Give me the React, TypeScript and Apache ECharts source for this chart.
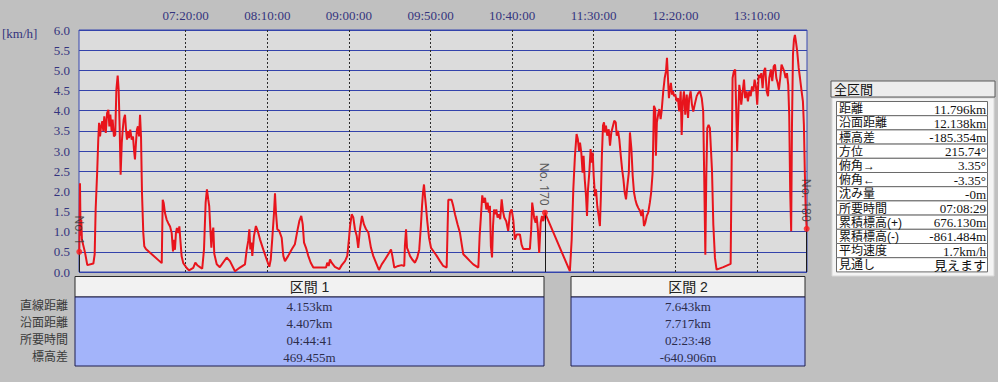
import React, { useEffect, useRef } from "react";
import * as echarts from "echarts";

// top time axis labels
const timeTicks = ["07:20:00", "08:10:00", "09:00:00", "09:50:00", "10:40:00", "11:30:00", "12:20:00", "13:10:00"];
const axisStart = "06:14:36";
const axisEnd = "13:40:42";

// [minutes since midnight, speed km/h]
const trackClimb: [number, number][] = [
  [374.8, 0.5], [375.2, 2.2], [375.6, 0.9], [376.0, 1.3], [376.4, 0.8], [378.3, 0.48], [379.7, 0.17], [383.4, 0.21],
  [384.2, 0.44], [384.8, 1.55], [385.8, 2.54], [386.4, 3.28], [386.9, 3.7], [387.5, 3.36], [388.1, 3.6], [388.9, 3.74],
  [389.5, 3.49], [390.1, 3.86], [391.0, 3.45], [391.8, 3.94], [392.6, 4.02], [393.2, 3.61], [393.8, 3.9], [394.6, 3.49],
  [395.2, 3.78], [396.0, 3.36], [396.8, 3.4], [397.5, 4.52], [398.3, 4.87], [398.9, 4.52], [399.5, 3.61], [400.1, 2.41],
  [400.8, 3.2], [401.4, 3.53], [402.0, 3.78], [402.8, 3.9], [403.4, 3.53], [404.0, 3.28], [404.6, 3.49], [405.2, 3.32],
  [406.0, 3.53], [406.9, 3.28], [407.7, 3.36], [408.3, 3.03], [408.9, 2.79], [409.5, 3.2], [410.1, 3.53], [410.7, 3.61],
  [411.4, 3.36], [412.0, 3.9], [412.6, 3.36], [413.2, 1.96], [414.0, 0.97], [414.6, 0.64], [415.6, 0.57], [425.3, 0.22],
  [425.9, 1.79], [426.5, 1.71], [427.3, 1.46], [428.3, 1.3], [429.3, 1.21], [430.4, 1.13], [431.4, 0.97], [432.2, 0.51],
  [432.8, 0.8], [433.4, 0.55], [434.0, 0.97], [434.6, 1.09], [435.4, 0.97], [436.1, 1.13], [436.7, 0.8], [437.5, 0.39],
  [438.5, 0.22],
];

const trackMiddle: [number, number][] = [
  [440.6, 0.1], [442.0, 0.04], [444.6, 0.1], [445.9, 0.23], [447.3, 0.16], [448.7, 0.12], [450.1, 0.08], [451.2, 0.56],
  [452.2, 1.72], [453.0, 2.05], [453.8, 1.8], [454.4, 1.63], [455.0, 1.13], [455.7, 0.6], [456.3, 0.98], [456.9, 1.1],
  [457.5, 0.45], [459.0, 0.19], [460.9, 0.12], [465.1, 0.36], [467.1, 0.27], [470.2, 0.02], [473.2, 0.11], [476.3, 0.19],
  [477.4, 0.56], [478.3, 0.77], [479.0, 1.06], [479.6, 0.56], [480.2, 0.73], [480.8, 0.4], [481.8, 0.89], [483.0, 1.14],
  [484.1, 1.02], [485.5, 0.81], [487.5, 0.56], [489.6, 0.31], [491.2, 0.13], [492.1, 0.31], [493.0, 0.81], [494.1, 1.47],
  [494.7, 1.95], [495.3, 1.47], [496.1, 1.06], [497.3, 1.02], [498.8, 0.85], [499.8, 0.4], [500.8, 0.27], [502.8, 0.4],
  [504.9, 0.56], [506.9, 0.69], [508.4, 1.02], [509.6, 1.26], [510.8, 1.39], [511.7, 1.18], [512.5, 0.73], [513.7, 0.6],
  [515.1, 0.4], [516.6, 0.23], [518.2, 0.11], [526.0, 0.11], [526.7, 0.23], [527.6, 0.15], [528.4, 0.31], [529.4, 0.23],
  [531.4, 0.13], [534.1, 0.07], [535.6, 0.17], [537.6, 0.27], [539.0, 0.4], [540.0, 0.81], [540.7, 1.14], [541.7, 1.43],
  [542.7, 1.35], [543.7, 1.06], [544.8, 0.89], [545.7, 0.6], [546.8, 1.06], [548.0, 1.39], [549.2, 1.18], [550.5, 1.06],
  [551.9, 0.98], [553.5, 0.6], [554.9, 0.4], [557.0, 0.19], [558.4, 0.05], [560.1, 0.19], [562.1, 0.31], [564.1, 0.44],
  [565.8, 0.56], [566.6, 0.4], [567.8, 0.11], [570.2, 0.15], [572.3, 0.17], [573.9, 0.15], [574.3, 0.64], [575.0, 1.06],
  [575.6, 0.6], [576.4, 0.52], [577.4, 0.4], [578.8, 0.31], [580.5, 0.23], [581.9, 0.36], [583.1, 0.56], [584.1, 1.14],
  [584.8, 1.64], [585.4, 1.97], [586.0, 2.17], [586.6, 1.88], [587.2, 1.64], [588.0, 1.26], [589.1, 0.85], [590.3, 0.6],
  [591.7, 0.52], [593.8, 0.4], [595.8, 0.27], [597.8, 0.15], [599.9, 0.11], [600.5, 1.14], [600.9, 1.79], [602.9, 1.79],
  [603.9, 1.64], [605.0, 1.43], [606.6, 1.18], [608.0, 0.98], [609.1, 0.69], [610.1, 0.44], [612.1, 0.36], [614.2, 0.27],
  [616.2, 0.19], [619.3, 0.11], [620.1, 0.89], [620.9, 1.39], [621.7, 1.9], [622.6, 1.72], [623.4, 1.84], [624.2, 1.55],
  [625.0, 1.72], [625.8, 1.47], [626.4, 1.64], [627.0, 0.64], [627.7, 0.36], [628.3, 1.14], [628.9, 1.55], [629.5, 1.43],
  [630.3, 1.55], [631.1, 1.35], [631.9, 1.43], [632.7, 1.31], [633.6, 1.8], [634.4, 1.51], [635.2, 1.35], [636.4, 1.26],
  [637.6, 1.02], [638.7, 1.47], [639.7, 1.55], [640.7, 1.3], [641.7, 0.8], [642.8, 0.93], [644.8, 0.93], [645.8, 0.68],
  [646.8, 0.57], [650.9, 0.57], [651.7, 1.05], [652.3, 1.72], [652.9, 1.55], [653.5, 1.34], [654.4, 1.22], [655.0, 1.39],
  [655.8, 1.05], [656.6, 0.47], [657.5, 1.22], [658.3, 1.39], [659.1, 1.26], [660.1, 1.47],
];

const trackSection2: [number, number][] = [
  [675.4, 0.02], [676.5, 0.8], [677.5, 2.05], [678.5, 2.88], [679.5, 3.42], [680.3, 3.29], [681.0, 3.0], [681.6, 3.21],
  [682.4, 2.96], [683.2, 2.46], [683.8, 2.88], [684.5, 2.3], [685.3, 1.88], [685.9, 1.39], [686.5, 2.05], [687.3, 2.46],
  [688.1, 3.05], [688.7, 2.71], [689.4, 2.96], [690.0, 2.38], [690.8, 1.88], [691.4, 2.05], [692.2, 1.63], [693.0, 1.39],
  [693.8, 1.14], [694.4, 1.88], [695.0, 2.88], [695.7, 3.63], [696.3, 3.71], [696.9, 3.46], [697.5, 3.63], [698.3, 3.38],
  [699.2, 3.54], [700.0, 3.13], [700.8, 3.46], [701.6, 3.59], [702.6, 3.75], [703.5, 3.71], [704.1, 3.38], [704.9, 3.5],
  [705.7, 3.29], [706.6, 2.88], [707.4, 2.55], [708.2, 2.3], [709.0, 1.97], [709.8, 1.8], [710.6, 2.13], [711.5, 2.46],
  [712.2, 3.46], [713.1, 3.05], [713.9, 2.38], [714.7, 1.97], [715.5, 1.8], [716.3, 1.68], [717.3, 1.59], [718.4, 1.51],
  [719.2, 1.39], [720.0, 1.55], [720.8, 1.14], [721.6, 1.22], [722.5, 1.39], [723.4, 1.47], [724.4, 1.72], [725.2, 1.97],
  [726.1, 2.46], [726.5, 3.29], [726.9, 4.12], [727.7, 4.04], [728.1, 2.88], [728.7, 3.71], [729.4, 3.88], [730.2, 4.04],
  [731.0, 3.79], [731.6, 3.98], [732.6, 4.48], [733.5, 4.81], [734.3, 4.98], [734.9, 5.31], [735.5, 4.81], [736.1, 4.31],
  [736.7, 4.52], [737.3, 4.69], [738.0, 4.4], [738.6, 4.48], [739.2, 4.36], [740.0, 4.4], [740.8, 4.23], [741.6, 4.31],
  [742.4, 3.98], [743.3, 4.48], [743.9, 3.4], [744.5, 4.15], [745.3, 4.48], [746.1, 3.9], [747.0, 4.4], [747.8, 3.82],
  [748.5, 4.31], [749.4, 4.48], [750.2, 4.15], [751.0, 3.98], [751.9, 4.15], [753.1, 4.36], [754.1, 4.44], [755.1, 4.48],
  [756.2, 4.31], [757.1, 3.98], [757.7, 2.41], [758.4, 0.43], [759.0, 2.41], [759.6, 3.57], [760.4, 3.65], [761.2, 3.57],
  [761.8, 3.07], [762.5, 2.5], [763.3, 1.17], [764.3, 0.35], [765.3, 0.06], [769.4, 0.12], [773.9, 0.2], [774.5, 2.58],
  [775.1, 4.81], [775.9, 4.98], [776.7, 5.02], [777.3, 4.07], [777.9, 2.99], [778.6, 3.9], [779.2, 4.64], [779.8, 4.48],
  [780.4, 4.15], [781.3, 4.48], [782.1, 4.77], [782.8, 4.31], [783.7, 4.48], [784.5, 4.23], [785.3, 4.48], [786.2, 4.36],
  [787.0, 4.6], [787.8, 4.48], [788.6, 4.77], [789.4, 4.6], [790.2, 4.15], [791.1, 4.89], [791.9, 4.81], [792.7, 4.93],
  [793.5, 4.56], [794.3, 4.98], [795.1, 5.06], [796.0, 4.48], [796.8, 4.36], [797.6, 4.81], [798.6, 5.02], [799.4, 4.73],
  [800.3, 5.1], [801.1, 5.14], [801.9, 4.81], [802.7, 4.69], [803.5, 4.52], [804.3, 4.81], [805.1, 5.14], [805.9, 5.06],
  [806.7, 4.98], [807.6, 4.81], [808.4, 4.93], [809.2, 4.64], [809.8, 3.9], [810.4, 2.0], [811.0, 1.01], [811.5, 3.65],
  [812.1, 5.39], [812.7, 5.76], [813.3, 5.88], [813.9, 5.72], [814.7, 5.47], [815.6, 5.06], [816.4, 4.81], [817.4, 4.48],
  [818.2, 4.23], [818.8, 3.65], [819.4, 2.41], [819.9, 1.59], [820.5, 1.07],
];

const markerNames = ["No. 1", "No. 170", "No. 180"];
const markerTimes = [374.8, 660.1, 820.5];

const sectionTitles = ["区間 1", "区間 2"];
const sectionRowLabels = ["直線距離", "沿面距離", "所要時間", "標高差"];
const section1Values = ["4.153km", "4.407km", "04:44:41", "469.455m"];
const section2Values = ["7.643km", "7.717km", "02:23:48", "-640.906m"];

const summaryTitle = "全区間";
const summaryLabels = ["距離", "沿面距離", "標高差", "方位", "俯角→", "俯角←", "沈み量", "所要時間", "累積標高(+)", "累積標高(-)", "平均速度", "見通し"];
const summaryValues = ["11.796km", "12.138km", "-185.354m", "215.74°", "3.35°", "-3.35°", "-0m", "07:08:29", "676.130m", "-861.484m", "1.7km/h", "見えます"];

const unitLabel = "[km/h]";

const toMin = (s: string) => {
  const [h, m, sec] = s.split(":").map(Number);
  return h * 60 + m + sec / 60;
};
const pad = (n: number) => (n < 10 ? "0" + n : "" + n);
const fmtTime = (v: number) => {
  const total = Math.round(v * 60);
  const h = Math.floor(total / 3600);
  const m = Math.floor((total % 3600) / 60);
  const s = total % 60;
  return pad(h) + ":" + pad(m) + ":" + pad(s);
};

const SERIF = '"Liberation Serif", "Noto Sans CJK JP", serif';
const JP = '"Liberation Sans", "Noto Sans CJK JP", sans-serif';
const NAVY = "#34347e";

function txt(text: string, x: number, y: number, font: string, fill: string, align = "left", z = 10) {
  return {
    type: "text",
    x,
    y,
    z,
    silent: true,
    style: { text, font, fill, align, textAlign: align, verticalAlign: "middle", textVerticalAlign: "middle", lineHeight: 13 },
  };
}
function box(x: number, y: number, w: number, h: number, fill: string, stroke: string, z = 5) {
  return { type: "rect", z, silent: true, shape: { x, y, width: w, height: h }, style: { fill, stroke, lineWidth: 1 } };
}

export default function App() {
  const ref = useRef<HTMLDivElement>(null);
  useEffect(() => {
    if (!ref.current) return;
    const chart = echarts.init(ref.current, undefined, { renderer: "svg" });
    const track = [...trackClimb, ...trackMiddle, ...trackSection2];
    const markerData = markerTimes.map((t, i) => {
      const p = track.find((q) => q[0] === t) || [t, 0];
      return { name: markerNames[i], value: [p[0], p[1]] };
    });
    const tickMins = timeTicks.map(toMin);

    const graphics: any[] = [];
    graphics.push(txt(unitLabel, 2, 33, '13px ' + SERIF, NAVY));

    // section tables
    const secBoxes = [
      { x: 75, w: 469, vals: section1Values },
      { x: 571, w: 234, vals: section2Values },
    ];
    secBoxes.forEach((b, i) => {
      graphics.push(box(b.x, 276.5, b.w, 20.5, "#f2f2f2", "#2a2a2a"));
      graphics.push(txt(sectionTitles[i], b.x + b.w / 2, 287, "14px " + JP, "#222", "center"));
      graphics.push(box(b.x, 297, b.w, 69, "#a3b4fa", "#1e1e50"));
      b.vals.forEach((v, r) => {
        graphics.push(txt(v, b.x + b.w / 2, 306 + r * 17, "13px " + SERIF, "#2c2c4a", "center"));
      });
    });
    sectionRowLabels.forEach((l, r) => {
      graphics.push(txt(l, 68, 306 + r * 17, "12px " + JP, "#3a3a3a", "right"));
    });

    // summary panel
    graphics.push(box(832, 98, 162, 178, "#f4f4f4", "#d8d8d8", 4));
    graphics.push(box(831, 81, 164, 16, "#ececec", "#5a5a5a"));
    graphics.push(txt(summaryTitle, 834, 89.5, "13px " + JP, "#111", "left"));
    const rowH = 14.2;
    summaryLabels.forEach((l, r) => {
      const y = 101.5 + r * rowH;
      graphics.push(box(836.5, y, 151, rowH, "#ffffff", "#6a6a6a"));
      graphics.push(txt(l, 839, y + rowH / 2 + 0.5, "12px " + JP, "#111", "left"));
      graphics.push(txt(summaryValues[r], 986, y + rowH / 2 + 0.5, "13px " + SERIF, "#111", "right"));
    });

    chart.setOption({
      animation: false,
      backgroundColor: "#c0c0c0",
      grid: {
        left: 79,
        right: 191,
        top: 30,
        bottom: 110,
        show: true,
        backgroundColor: "#dcdcdc",
        borderColor: "#3848b0",
        borderWidth: 1,
      },
      xAxis: {
        type: "value",
        position: "top",
        min: toMin(axisStart),
        max: toMin(axisEnd),
        axisLine: { show: false },
        axisTick: { show: false, customValues: tickMins },
        axisLabel: {
          customValues: tickMins,
          formatter: (v: number) => fmtTime(v),
          color: NAVY,
          fontFamily: SERIF,
          fontSize: 13,
          margin: 8,
        },
        splitLine: { show: true, lineStyle: { color: "#2a2a2a", type: [2, 2], width: 1 } },
      },
      yAxis: {
        type: "value",
        min: 0,
        max: 6,
        interval: 0.5,
        axisLine: { show: false },
        axisTick: { show: false },
        axisLabel: {
          formatter: (v: number) => v.toFixed(1),
          color: NAVY,
          fontFamily: SERIF,
          fontSize: 13,
          margin: 9,
        },
        splitLine: { show: true, lineStyle: { color: "#3343ab", width: 1 } },
      },
      series: [
        {
          type: "line",
          data: track,
          showSymbol: false,
          symbol: "none",
          clip: true,
          lineStyle: { color: "#e8141c", width: 2 },
          z: 3,
        },
        {
          type: "scatter",
          data: markerData,
          symbol: "circle",
          symbolSize: 6,
          itemStyle: { color: "#ff1a1a" },
          z: 5,
          label: {
            show: true,
            formatter: (p: any) => p.name,
            position: "top",
            rotate: -90,
            align: "right",
            verticalAlign: "middle",
            distance: 4,
            color: "#333",
            fontFamily: '"Noto Sans", sans-serif',
            fontSize: 12,
          },
          markLine: {
            silent: true,
            symbol: "none",
            label: { show: false },
            lineStyle: { color: "#1a1a1a", width: 1, type: "solid" },
            data: markerData.map((m) => [
              { coord: [m.value[0], m.value[1]] },
              { coord: [m.value[0], 0] },
            ]),
          },
        },
      ],
      graphic: graphics,
    });
    return () => chart.dispose();
  }, []);
  return (
    <div
      ref={ref}
      style={{ position: "absolute", left: 0, top: 0, width: 998, height: 382, background: "#c0c0c0" }}
    />
  );
}
